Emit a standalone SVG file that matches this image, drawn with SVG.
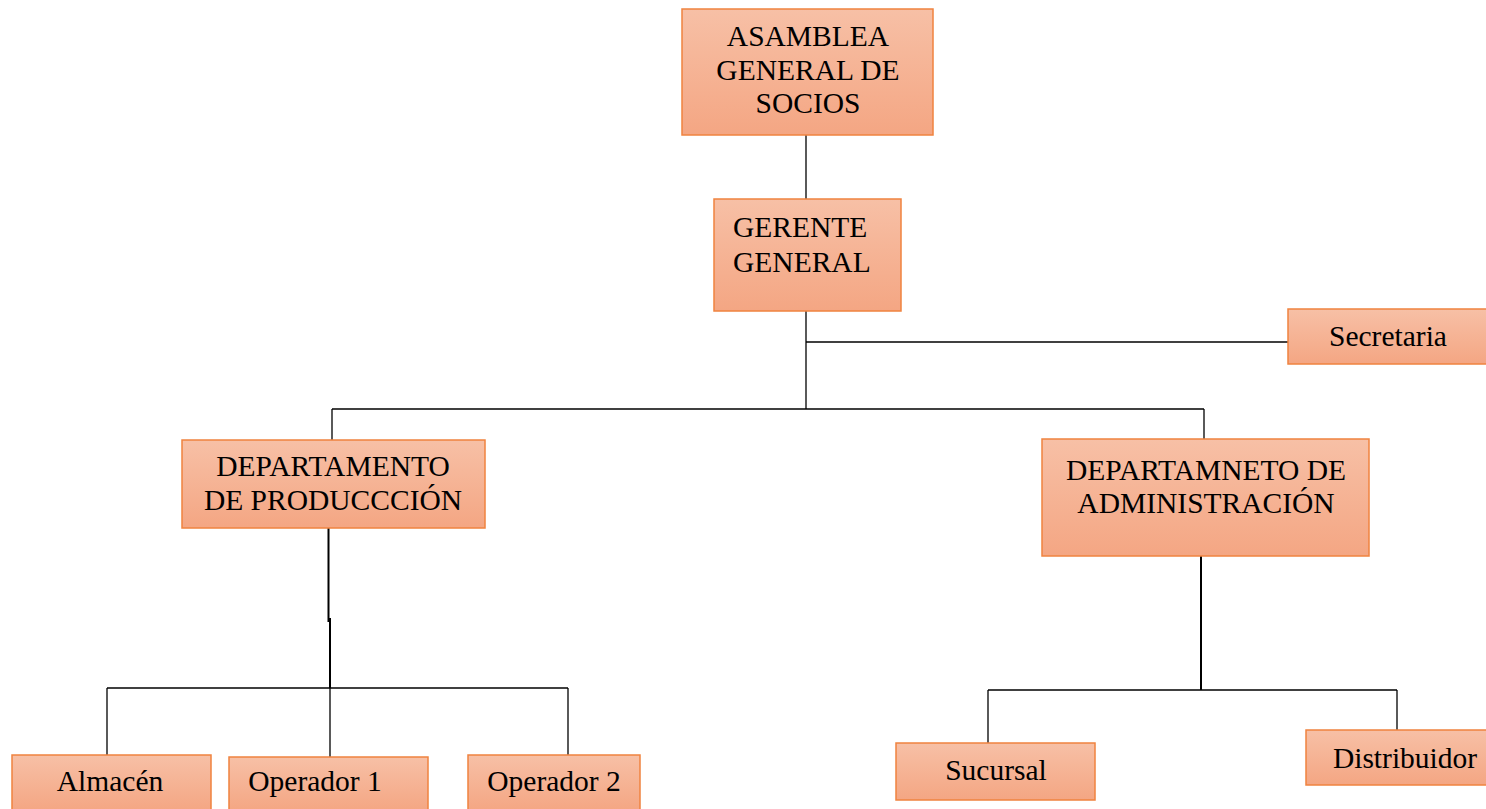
<svg xmlns="http://www.w3.org/2000/svg" width="1486" height="809" viewBox="0 0 1486 809">
<defs>
<linearGradient id="g" x1="0" y1="0" x2="0" y2="1">
<stop offset="0" stop-color="#F7C0A6"/>
<stop offset="1" stop-color="#F4A683"/>
</linearGradient>
<style>
.box{fill:url(#g);stroke:#F0833F;stroke-width:1.5}
.t{font-family:"Liberation Serif","Times New Roman",serif;font-size:29.5px;fill:#000;text-anchor:middle}
.l{stroke:#000;stroke-width:1.3;fill:none}
</style>
</defs>
<rect width="1486" height="809" fill="#fff"/>
<g id="connectors">
<path class="l" d="M806 135V199"/>
<path class="l" d="M806 311V409"/>
<path class="l" d="M806 342H1288"/>
<path class="l" d="M332 409H1204"/>
<path class="l" d="M332 409V440"/>
<path class="l" d="M1204 409V439"/>
<path class="l" d="M328.5 528V622M330 618V688" style="stroke-width:2"/>
<path class="l" d="M107 688H568"/>
<path class="l" d="M107 688V755"/>
<path class="l" d="M330 688V757"/>
<path class="l" d="M568 688V755"/>
<path class="l" d="M1201 556V690" style="stroke-width:2"/>
<path class="l" d="M988 690H1397"/>
<path class="l" d="M988 690V743"/>
<path class="l" d="M1397 690V730"/>
</g>
<g id="asamblea">
<rect class="box" x="682" y="9" width="251" height="126"/>
<text class="t" x="808" y="46">ASAMBLEA</text>
<text class="t" x="808" y="80">GENERAL DE</text>
<text class="t" x="808" y="113">SOCIOS</text>
</g>
<g id="gerente">
<rect class="box" x="714" y="199" width="187" height="112"/>
<text class="t" x="733" y="237" style="text-anchor:start">GERENTE</text>
<text class="t" x="733" y="272" style="text-anchor:start">GENERAL</text>
</g>
<g id="secretaria">
<rect class="box" x="1288" y="309" width="202" height="55"/>
<text class="t" x="1388" y="346">Secretaria</text>
</g>
<g id="produccion">
<rect class="box" x="182" y="440" width="303" height="88"/>
<text class="t" x="333" y="476">DEPARTAMENTO</text>
<text class="t" x="333" y="510">DE PRODUCCCIÓN</text>
</g>
<g id="administracion">
<rect class="box" x="1042" y="439" width="327" height="117"/>
<text class="t" x="1206" y="480">DEPARTAMNETO DE</text>
<text class="t" x="1206" y="513">ADMINISTRACIÓN</text>
</g>
<g id="almacen">
<rect class="box" x="12" y="755" width="199" height="56"/>
<text class="t" x="110" y="791">Almacén</text>
</g>
<g id="operador1">
<rect class="box" x="229" y="757" width="199" height="54"/>
<text class="t" x="315" y="791">Operador 1</text>
</g>
<g id="operador2">
<rect class="box" x="468" y="755" width="172" height="56"/>
<text class="t" x="554" y="791">Operador 2</text>
</g>
<g id="sucursal">
<rect class="box" x="896" y="743" width="199" height="57"/>
<text class="t" x="996" y="780">Sucursal</text>
</g>
<g id="distribuidor">
<rect class="box" x="1306" y="730" width="184" height="55"/>
<text class="t" x="1405" y="768">Distribuidor</text>
</g>
</svg>
